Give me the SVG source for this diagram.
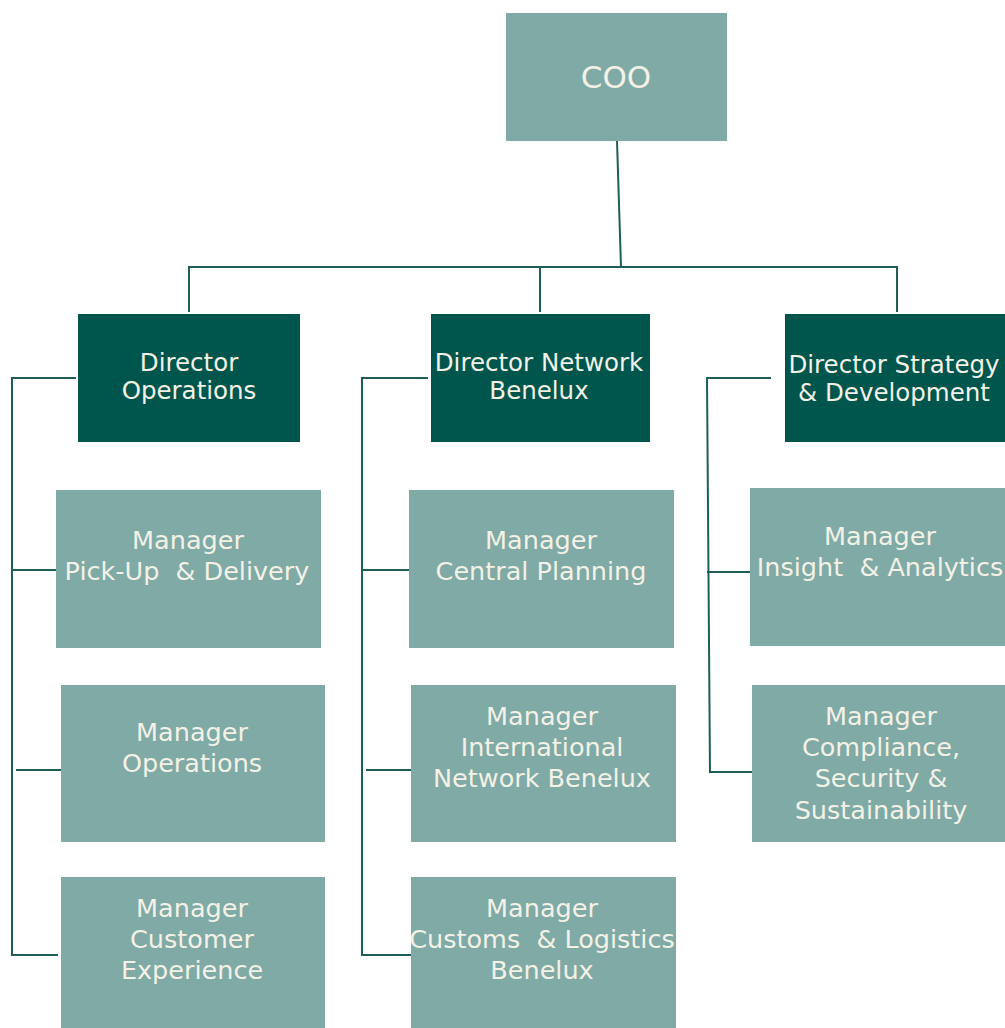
<svg xmlns="http://www.w3.org/2000/svg" width="1005" height="1028" viewBox="0 0 1005 1028">
<style>
.mgr{fill:#7faaa5}
.dir{fill:#00564d}
.coo{fill:#7faaa5}
text{font-family:"DejaVu Sans",Verdana,sans-serif;font-size:25.5px;fill:#f4f1e6;text-anchor:middle}
.d{font-size:24.5px}
.big{font-size:31px}
.ln{fill:none;stroke:#1d5f58;stroke-width:2}
</style>
<rect width="1005" height="1028" fill="#ffffff"/>
<g id="connectors">
<path class="ln" d="M617,141 L621,267"/>
<path class="ln" d="M189,312 V267 H897 V312"/>
<path class="ln" d="M540,267 V312"/>
<path class="ln" d="M76,378 H12 V955 H58"/>
<path class="ln" d="M12,570 H56"/>
<path class="ln" d="M16,770 H61"/>
<path class="ln" d="M428,378 H362 V955 H411"/>
<path class="ln" d="M362,570 H409"/>
<path class="ln" d="M366,770 H411"/>
<path class="ln" d="M771,378 H707 L710,772 H752"/>
<path class="ln" d="M707,572 H750"/>
</g>
<g id="coo"><rect class="coo" x="506" y="13" width="221" height="128"/><text class="big" x="616" y="88">COO</text></g>
<g id="dir-ops"><rect class="dir" x="78" y="314" width="222" height="128"/><text class="d" x="189" y="371">Director</text><text class="d" x="189" y="399">Operations</text></g>
<g id="dir-net"><rect class="dir" x="431" y="314" width="219" height="128"/><text class="d" x="539" y="371">Director Network</text><text class="d" x="539" y="399">Benelux</text></g>
<g id="dir-strat"><rect class="dir" x="785" y="314" width="222" height="128"/><text class="d" x="894" y="373">Director Strategy</text><text class="d" x="894" y="401">&amp; Development</text></g>
<g id="mgr-pickup"><rect class="mgr" x="56" y="490" width="265" height="158"/><text x="188" y="549">Manager</text><text x="187" y="580" xml:space="preserve">Pick-Up  &amp; Delivery</text></g>
<g id="mgr-ops"><rect class="mgr" x="61" y="685" width="264" height="157"/><text x="192" y="741">Manager</text><text x="192" y="772">Operations</text></g>
<g id="mgr-cx"><rect class="mgr" x="61" y="877" width="264" height="160"/><text x="192" y="917">Manager</text><text x="192" y="948">Customer</text><text x="192" y="979">Experience</text></g>
<g id="mgr-plan"><rect class="mgr" x="409" y="490" width="265" height="158"/><text x="541" y="549">Manager</text><text x="541" y="580">Central Planning</text></g>
<g id="mgr-intl"><rect class="mgr" x="411" y="685" width="265" height="157"/><text x="542" y="725">Manager</text><text x="542" y="756">International</text><text x="542" y="787">Network Benelux</text></g>
<g id="mgr-customs"><rect class="mgr" x="411" y="877" width="265" height="160"/><text x="542" y="917">Manager</text><text x="542" y="948" xml:space="preserve">Customs  &amp; Logistics</text><text x="542" y="979">Benelux</text></g>
<g id="mgr-insight"><rect class="mgr" x="750" y="488" width="258" height="158"/><text x="880" y="545">Manager</text><text x="880" y="576" xml:space="preserve">Insight  &amp; Analytics</text></g>
<g id="mgr-compliance"><rect class="mgr" x="752" y="685" width="256" height="157"/><text x="881" y="725">Manager</text><text x="881" y="756">Compliance,</text><text x="881" y="787">Security &amp;</text><text x="881" y="819">Sustainability</text></g>
</svg>
